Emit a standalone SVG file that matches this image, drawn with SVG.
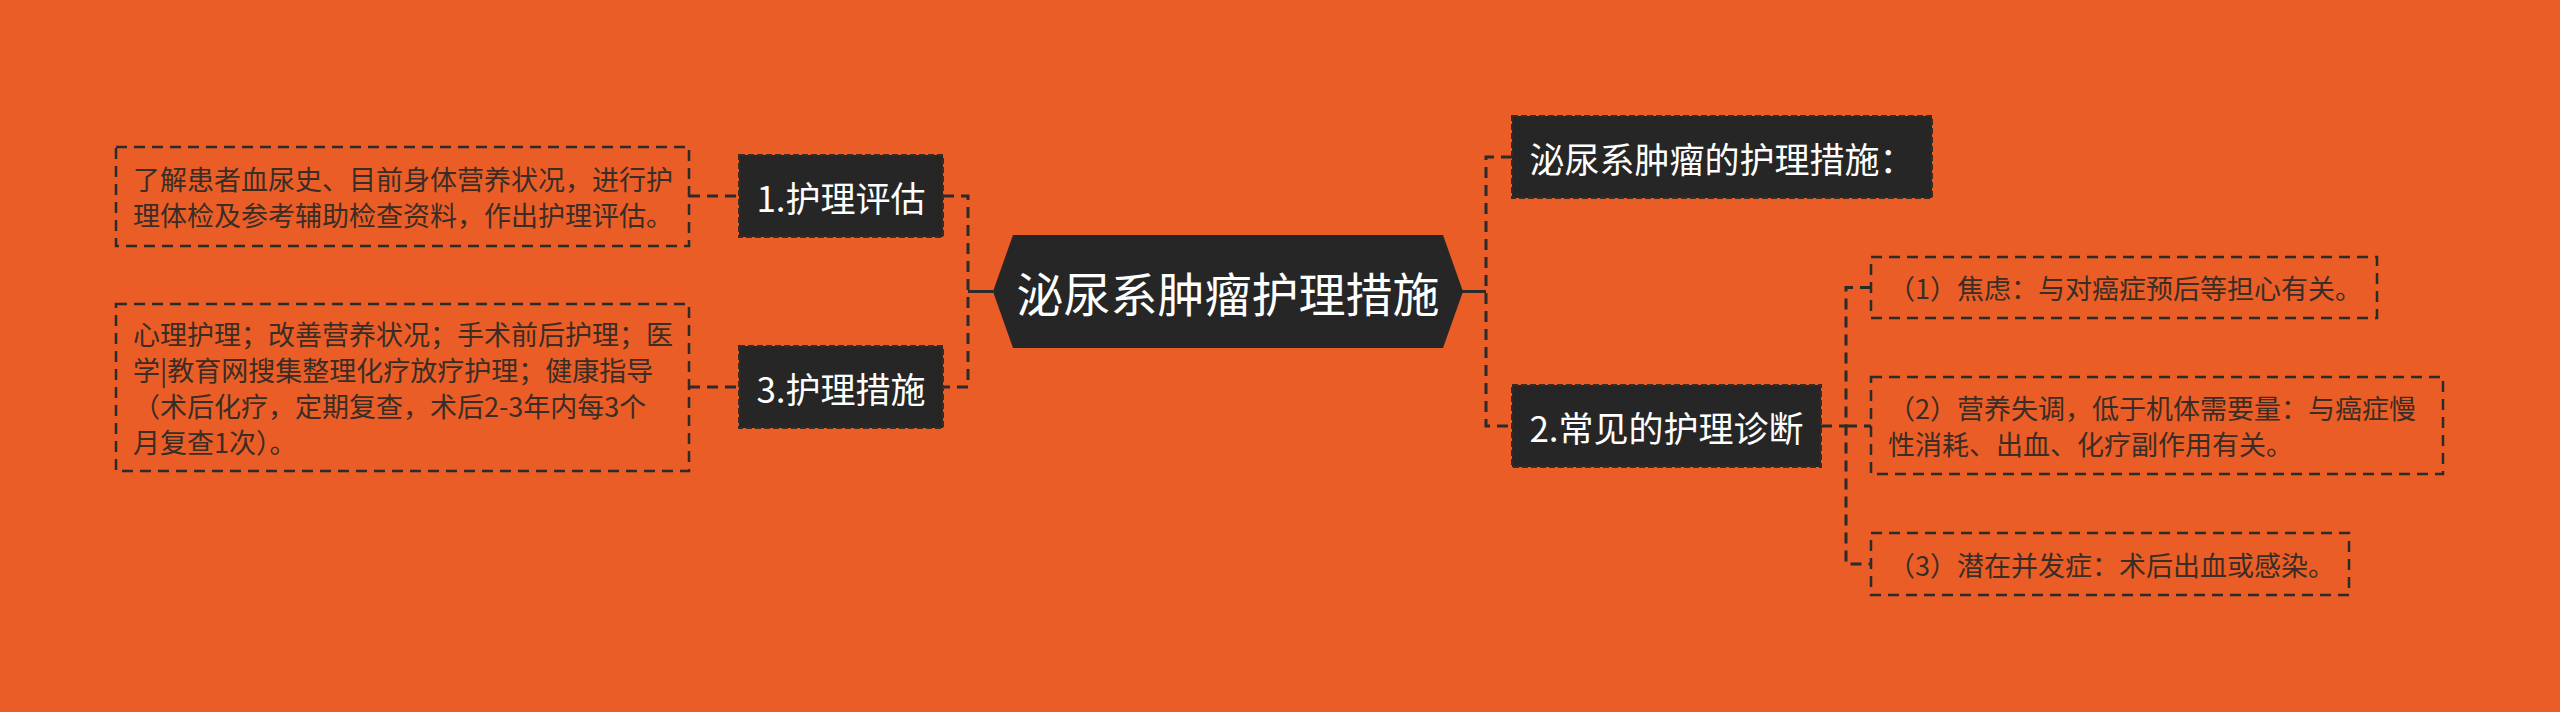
<svg xmlns="http://www.w3.org/2000/svg" width="2560" height="712" viewBox="0 0 2560 712">
<style>
text{font-family:"Noto Sans CJK SC","Noto Sans",sans-serif}
.dark{fill:#262626;stroke:#3c2a20;stroke-width:2;stroke-dasharray:6 3}
.dt{fill:#ffffff;font-size:35px;text-anchor:middle;dominant-baseline:central}
.leaf{fill:none;stroke:#2b2b2b;stroke-width:2.5;stroke-dasharray:11 7}
.lt{fill:#3a2d25;font-size:27px;dominant-baseline:central}
.con{fill:none;stroke:#2b2b2b;stroke-width:3;stroke-dasharray:11 7}
.solid{fill:none;stroke:#2b2b2b;stroke-width:3}
</style>
<rect width="2560" height="712" fill="#EA5D26"/>
<g id="connectors">
<line class="solid" x1="968" y1="291.5" x2="993" y2="291.5"/>
<path class="con" d="M943,196 H968 V387 H943"/>
<line class="con" x1="689" y1="196" x2="739" y2="196"/>
<line class="con" x1="689" y1="387" x2="739" y2="387"/>
<line class="solid" x1="1462" y1="291.5" x2="1486" y2="291.5"/>
<path class="con" d="M1512,157 H1486 V426 H1512"/>
<line class="con" x1="1821" y1="426" x2="1846" y2="426"/>
<path class="con" d="M1871,287.5 H1846 V564 H1871"/>
<line class="con" x1="1846" y1="426" x2="1871" y2="426"/>
</g>
<g id="center">
<polygon points="993,291.5 1013,235 1443,235 1463,291.5 1443,348 1013,348" fill="#262626"/>
<text x="1228" y="291.5" fill="#ffffff" font-size="47" text-anchor="middle" dominant-baseline="central">泌尿系肿瘤护理措施</text>
</g>
<g id="node-1">
<rect class="dark" x="739" y="155" width="204" height="82"/>
<text class="dt" x="841" y="196">1.护理评估</text>
</g>
<g id="node-3">
<rect class="dark" x="739" y="346" width="204" height="82"/>
<text class="dt" x="841" y="387">3.护理措施</text>
</g>
<g id="node-top">
<rect class="dark" x="1512" y="116" width="420" height="82"/>
<text class="dt" x="1722" y="157">泌尿系肿瘤的护理措施：</text>
</g>
<g id="node-2">
<rect class="dark" x="1512" y="385" width="309" height="82"/>
<text class="dt" x="1666.5" y="426">2.常见的护理诊断</text>
</g>
<g id="leaf-l1">
<rect class="leaf" x="116" y="147" width="573" height="99"/>
<text class="lt" x="133" y="178.5">了解患者血尿史、目前身体营养状况，进行护</text>
<text class="lt" x="133" y="214.5">理体检及参考辅助检查资料，作出护理评估。</text>
</g>
<g id="leaf-l3">
<rect class="leaf" x="116" y="304" width="573" height="167"/>
<text class="lt" x="133" y="333.5">心理护理；改善营养状况；手术前后护理；医</text>
<text class="lt" x="133" y="369.5">学|教育网搜集整理化疗放疗护理；健康指导</text>
<text class="lt" x="133" y="405.5">（术后化疗，定期复查，术后2-3年内每3个</text>
<text class="lt" x="133" y="441.5">月复查1次）。</text>
</g>
<g id="leaf-r1">
<rect class="leaf" x="1871" y="257" width="506" height="61"/>
<text class="lt" x="1888" y="287.5">（1）焦虑：与对癌症预后等担心有关。</text>
</g>
<g id="leaf-r2">
<rect class="leaf" x="1871" y="377" width="572" height="97"/>
<text class="lt" x="1888" y="407.5">（2）营养失调，低于机体需要量：与癌症慢</text>
<text class="lt" x="1888" y="443.5">性消耗、出血、化疗副作用有关。</text>
</g>
<g id="leaf-r3">
<rect class="leaf" x="1871" y="533" width="478" height="62"/>
<text class="lt" x="1888" y="564">（3）潜在并发症：术后出血或感染。</text>
</g>
</svg>
